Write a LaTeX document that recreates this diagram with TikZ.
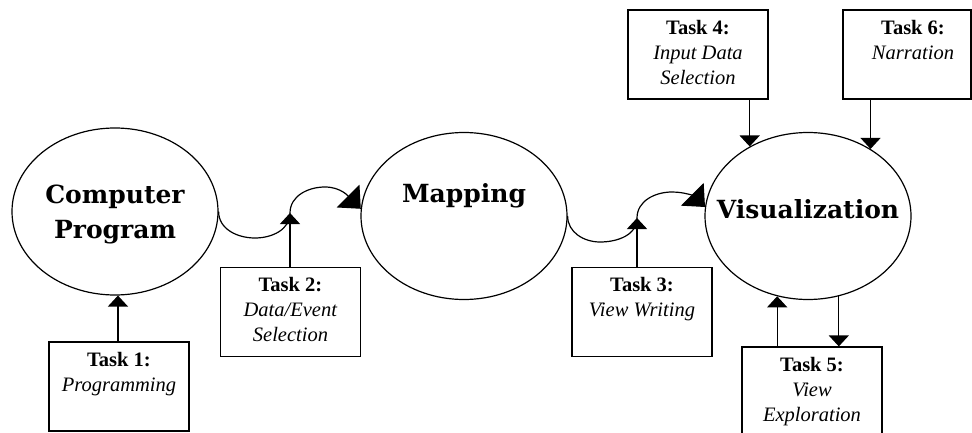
\documentclass[tikz,border=0pt]{standalone}
\usepackage{fontspec}
\setmainfont{Liberation Serif}
\newfontfamily\headfont{DejaVu Serif}
\usetikzlibrary{arrows.meta, shapes.geometric}

\begin{document}
\begin{tikzpicture}[x=1pt, y=1pt, line width=1.2pt,
    stage/.style={draw, ellipse, minimum width=206pt, minimum height=167pt, inner sep=0pt},
    headtext/.style={anchor=center, inner sep=0pt, align=center, font=\headfont\bfseries\fontsize{25}{35}\selectfont},
    task/.style={draw, rectangle, minimum width=140pt, minimum height=89pt, inner sep=0pt},
    tasktext/.style={anchor=north, yshift=-10pt, inner sep=0pt, align=center, font=\fontsize{20.5}{25}\selectfont},
    arr/.style={-{Triangle[width=20pt, length=11pt]}},
    bigarr/.style={-{Triangle[width=32pt, length=18pt]}}]
  \clip (0,0) rectangle (972,432);

  \node[stage, label={[headtext, yshift=-3pt]center:{Computer\\Program}}] (cp) at (115,220.5) {};
  \node[stage, label={[headtext, yshift=20pt]center:{Mapping}}] (map) at (464,216) {};
  \node[stage, label={[headtext, yshift=7pt]center:{Visualization}}] (vis) at (808,216) {};

  \node[task, label={[tasktext]north:{\textbf{Task 1:}\\\textit{Programming}}}] (t1) at (119,45.5) {};
  \node[task, label={[tasktext]north:{\textbf{Task 2:}\\\textit{Data/Event}\\\textit{Selection}}}] (t2) at (290.5,120) {};
  \node[task, label={[tasktext]north:{\textbf{Task 3:}\\\textit{View Writing}}}] (t3) at (642,120) {};
  \node[task, label={[tasktext]north:{\textbf{Task 4:}\\\textit{Input Data}\\\textit{Selection}}}] (t4) at (698,377.5) {};
  \node[task, label={[tasktext]north:{\textbf{Task 5:}\\\textit{View}\\\textit{Exploration}}}] (t5) at (812,40.5) {};
  \node[task, minimum width=128pt, label={[tasktext, xshift=6pt]north:{\textbf{Task 6:}\\\textit{Narration}}}] (t6) at (907,377.5) {};

  \coordinate (j1) at (290,219);
  \coordinate (j2) at (637,214);

  \draw[bigarr] (cp.east) to[out=-90, in=180] (255,194) to[out=0, in=-90] (j1)
    to[out=90, in=180] (325,245) to[out=0, in=135] (map.176);
  \draw[bigarr] (map.east) to[out=-90, in=180] (600,190) to[out=0, in=-90] (j2)
    to[out=90, in=180] (672,240) to[out=0, in=135] (vis.175);

  \draw[arr] (t1.north -| cp.272) -- (cp.272);
  \draw[arr] (t2.north -| j1) -- (j1);
  \draw[arr] (t3.north -| j2) -- (j2);
  \draw[arr] (t4.south -| vis.130) -- (vis.130);
  \draw[arr] (t6.south -| vis.47) -- (vis.47);
  \draw[arr] (t5.north -| vis.249) -- (vis.249);
  \draw[arr] (vis.291) -- (vis.291 |- t5.north);
\end{tikzpicture}
\end{document}
